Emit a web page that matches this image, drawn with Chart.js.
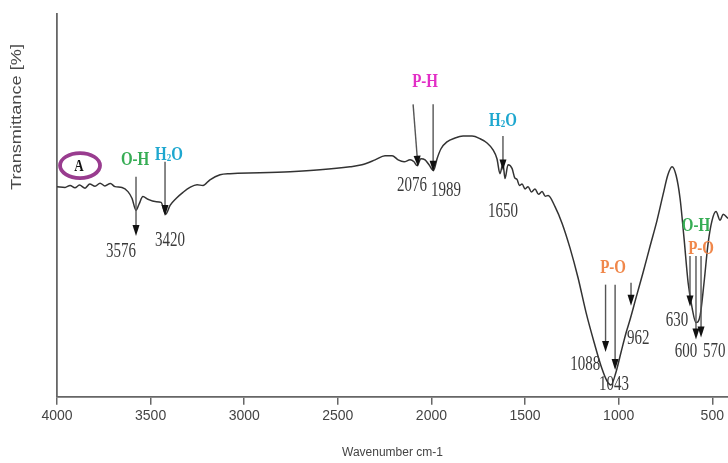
<!DOCTYPE html>
<html>
<head>
<meta charset="utf-8">
<script src="https://cdn.jsdelivr.net/npm/chart.js@4.4.1/dist/chart.umd.min.js"></script>
<style>
  html, body { margin: 0; padding: 0; background: #fff; }
  #wrap { width: 728px; height: 463px; }
</style>
</head>
<body>
<div id="wrap"><canvas id="canvas_ftir"></canvas></div>
<script>
const wavenumbers = [4000, 3957, 3930, 3904, 3880, 3850, 3825, 3797, 3770, 3744, 3715, 3690, 3653, 3621, 3599, 3578, 3562, 3541, 3514, 3476, 3444, 3420, 3396, 3364, 3327, 3290, 3252, 3220, 3183, 3129, 3076, 2916, 2755, 2595, 2435, 2371, 2301, 2248, 2210, 2178, 2146, 2114, 2093, 2077, 2056, 2034, 2013, 1989, 1970, 1949, 1917, 1874, 1831, 1783, 1740, 1703, 1671, 1650, 1634, 1618, 1607, 1591, 1569, 1555, 1543, 1530, 1516, 1500, 1484, 1466, 1447, 1428, 1409, 1392, 1377, 1340, 1302, 1260, 1217, 1174, 1131, 1089, 1062, 1041, 1014, 987, 960, 939, 907, 870, 832, 795, 763, 737, 715, 693, 672, 651, 629, 608, 587, 565, 544, 522, 501, 480, 458, 442, 416];
const transmittance = [54.9, 54.7, 55.2, 54.6, 55.3, 54.5, 55.6, 55.0, 55.8, 55.1, 55.7, 54.9, 54.7, 53.6, 51.8, 48.7, 50.3, 52.3, 51.6, 51.0, 50.8, 47.7, 50.0, 51.8, 53.4, 54.7, 55.4, 55.2, 56.7, 58.0, 58.3, 58.5, 58.8, 59.3, 60.1, 60.6, 61.9, 63.0, 63.0, 61.9, 61.4, 61.9, 61.4, 60.4, 62.2, 61.9, 60.6, 59.1, 62.2, 64.8, 66.6, 67.6, 68.1, 68.1, 67.4, 66.3, 64.5, 62.2, 58.3, 60.9, 57.0, 60.6, 59.6, 57.2, 56.8, 55.2, 55.6, 54.3, 54.9, 53.5, 54.3, 52.9, 53.6, 52.4, 52.6, 49.7, 45.3, 38.9, 31.1, 22.0, 14.2, 7.3, 4.1, 3.1, 6.5, 11.7, 16.8, 20.2, 25.9, 32.4, 39.4, 46.1, 52.8, 58.0, 60.1, 57.8, 51.8, 41.5, 29.8, 23.3, 19.4, 21.2, 29.8, 40.2, 46.1, 48.4, 46.1, 47.7, 46.6];
const xTicks = [4000, 3500, 3000, 2500, 2000, 1500, 1000, 500];

// arrows: wavenumber at top, wavenumber at tip, transmittance at top, at tip
const arrows = [
  [3578, 3578, 57.5, 42.0],
  [3423, 3423, 61.4, 47.2],
  [2098, 2072, 76.4, 60.1],
  [1991, 1991, 76.4, 58.8],
  [1618, 1618, 68.1, 59.1],
  [1070, 1070, 29.3, 11.7],
  [1019, 1019, 29.3, 7.0],
  [934, 934, 29.8, 23.8],
  [619, 619, 36.8, 23.6],
  [587, 587, 36.8, 15.0],
  [560, 560, 36.8, 15.5]
];
// peak numbers: text, wavenumber, transmittance
const peakLabels = [
  ['3576', 3658, 37.8], ['3420', 3396, 40.7], ['2076', 2104, 55.2], ['1989', 1922, 53.9],
  ['1650', 1618, 48.4], ['1088', 1179, 8.3], ['1043', 1025, 3.1], ['962', 896, 15.3],
  ['630', 688, 19.9], ['600', 640, 11.7], ['570', 490, 11.7]
];
// bond names: text, wavenumber, transmittance, colour
const bondLabels = [
  ['O-H', 3583, 61.7, '#37ad55'], ['H2O', 3402, 63.0, '#1ea7cf'], ['P-H', 2034, 82.1, '#e22fc6'],
  ['H2O', 1618, 72.0, '#1ea7cf'], ['P-O', 1030, 33.7, '#f0874a'], ['O-H', 587, 44.6, '#37ad55'],
  ['P-O', 560, 38.6, '#f0874a']
];
const sampleMark = ['A', 3877, 60.4];

function stretchText(ctx, parts, cx, cy, sy) {
  let w = 0;
  parts.forEach(p => { ctx.font = p.font; p.w = ctx.measureText(p.t).width; w += p.w; });
  ctx.save();
  ctx.translate(cx, cy);
  ctx.scale(1, sy);
  let px = -w / 2;
  parts.forEach(p => { ctx.font = p.font; ctx.fillText(p.t, px, p.dy || 0); px += p.w; });
  ctx.restore();
}

const ftirMarks = {
  id: 'ftirMarks',
  afterDatasetsDraw(chart) {
    const ctx = chart.ctx;
    const xs = chart.scales.x, ys = chart.scales.y;
    ctx.save();
    ctx.textAlign = 'left';
    ctx.textBaseline = 'middle';

    arrows.forEach(a => {
      const x1 = xs.getPixelForValue(a[0]), x2 = xs.getPixelForValue(a[1]);
      const y1 = ys.getPixelForValue(a[2]), y2 = ys.getPixelForValue(a[3]);
      const ang = Math.atan2(y2 - y1, x2 - x1);
      const c = Math.cos(ang), s = Math.sin(ang);
      ctx.strokeStyle = '#555';
      ctx.lineWidth = 1.4;
      ctx.beginPath();
      ctx.moveTo(x1, y1);
      ctx.lineTo(x2 - c * 8, y2 - s * 8);
      ctx.stroke();
      ctx.fillStyle = '#111';
      ctx.beginPath();
      ctx.moveTo(x2, y2);
      ctx.lineTo(x2 - c * 11 + s * 3.5, y2 - s * 11 - c * 3.5);
      ctx.lineTo(x2 - c * 11 - s * 3.5, y2 - s * 11 + c * 3.5);
      ctx.closePath();
      ctx.fill();
    });

    ctx.fillStyle = '#3a3a3a';
    peakLabels.forEach(p => {
      stretchText(ctx, [{ t: p[0], font: '15px "Liberation Serif", serif' }],
        xs.getPixelForValue(p[1]), ys.getPixelForValue(p[2]), 1.35);
    });

    bondLabels.forEach(b => {
      const f = 'bold 15px "Liberation Serif", serif';
      const parts = b[0] === 'H2O'
        ? [{ t: 'H', font: f }, { t: '2', font: 'bold 9px "Liberation Serif", serif', dy: 2 }, { t: 'O', font: f }]
        : [{ t: b[0], font: f }];
      ctx.fillStyle = b[3];
      stretchText(ctx, parts, xs.getPixelForValue(b[1]), ys.getPixelForValue(b[2]), 1.25);
    });

    // circled sample letter
    const ax = xs.getPixelForValue(sampleMark[1]), ay = ys.getPixelForValue(sampleMark[2]);
    ctx.strokeStyle = '#993c8f';
    ctx.lineWidth = 3.8;
    ctx.beginPath();
    ctx.ellipse(ax, ay, 20, 12.5, 0, 0, Math.PI * 2);
    ctx.stroke();
    ctx.fillStyle = '#111';
    stretchText(ctx, [{ t: sampleMark[0], font: 'bold 13px "Liberation Serif", serif' }], ax - 1, ay + 1, 1.25);

    // y axis title, stretched along its length like the source
    ctx.save();
    ctx.translate(17, 117);
    ctx.rotate(-Math.PI / 2);
    ctx.scale(1.3, 1);
    ctx.textAlign = 'center';
    ctx.fillStyle = '#4a4a4a';
    ctx.font = '14px "Liberation Sans", Arial, sans-serif';
    ctx.fillText('Transmittance [%]', 0, 0);
    ctx.restore();

    ctx.restore();
  }
};

const points = wavenumbers.map((w, i) => ({ x: w, y: transmittance[i] }));

new Chart(document.getElementById('canvas_ftir'), {
  type: 'line',
  data: {
    datasets: [{
      data: points,
      borderColor: '#333',
      borderWidth: 1.5,
      pointRadius: 0,
      cubicInterpolationMode: 'monotone',
      fill: false
    }]
  },
  options: {
    responsive: true,
    maintainAspectRatio: false,
    animation: false,
    layout: { padding: { left: 57, top: 14, right: 0, bottom: 2 } },
    plugins: { legend: { display: false }, tooltip: { enabled: false } },
    scales: {
      x: {
        type: 'linear',
        reverse: true,
        min: 416,
        max: 4000,
        afterBuildTicks: scale => { scale.ticks = xTicks.map(v => ({ value: v })); },
        grid: { drawOnChartArea: false, drawTicks: true, tickLength: 8, color: '#666', lineWidth: 1.5 },
        border: { display: true, color: '#666', width: 1.8 },
        ticks: {
          color: '#444',
          padding: 3,
          maxRotation: 0,
          font: { family: '"Liberation Sans", Arial, sans-serif', size: 14 },
          callback: v => String(v)
        },
        title: {
          display: true,
          text: 'Wavenumber cm-1',
          color: '#444',
          font: { family: '"Liberation Sans", Arial, sans-serif', size: 12 },
          padding: { top: 18, bottom: 1 }
        }
      },
      y: {
        min: 0,
        max: 100,
        ticks: { display: false },
        grid: { display: false, drawTicks: false },
        border: { display: true, color: '#666', width: 1.8 }
      }
    }
  },
  plugins: [ftirMarks]
});
</script>
</body>
</html>
